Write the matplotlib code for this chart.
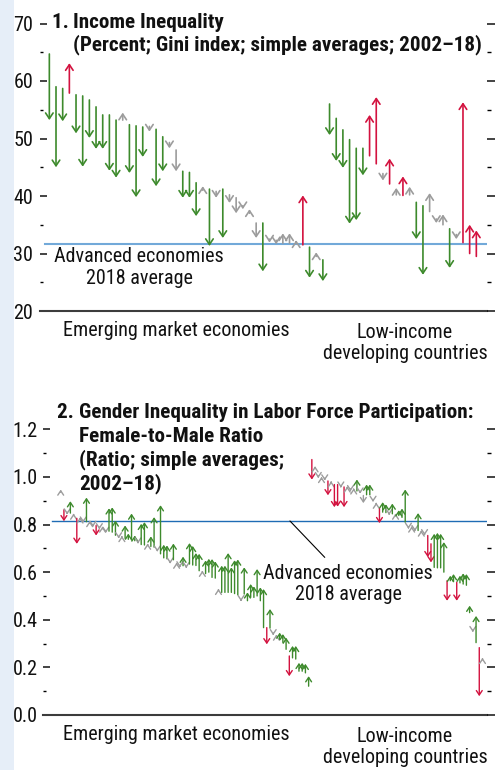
import matplotlib
matplotlib.use("Agg")
import matplotlib.pyplot as plt
from matplotlib.patches import FancyArrowPatch, Rectangle, ArrowStyle
from matplotlib import font_manager as fm
from matplotlib.ticker import MultipleLocator

# ---------------- fonts ----------------
_names = {f.name for f in fm.fontManager.ttflist}
FONT = next((n for n in ["Liberation Sans Narrow", "DejaVu Sans Condensed",
                         "Roboto Condensed", "Liberation Sans"] if n in _names), "DejaVu Sans")
plt.rcParams["font.family"] = [FONT, "DejaVu Sans"]

# ---------------- data: panel 1 (Gini index) ----------------
gini_em_2002 = [64.7, 59.0, 58.7, 57.9, 57.6, 57.4, 56.7, 55.5, 54.1, 54.1,
                53.2, 53.2, 52.4, 52.2, 52.0, 52.1, 51.6, 50.3, 49.3, 48.0,
                44.3, 44.1, 42.3, 41.0, 41.2, 40.8, 41.2, 40.2, 39.7, 38.3,
                37.0, 35.3, 35.3, 32.5, 32.3, 31.8, 31.8, 31.8, 31.5, 31.1,
                29.5, 28.9]
gini_em_2018 = [53.2, 45.0, 53.0, 63.1, 50.9, 45.1, 50.1, 48.2, 48.2, 44.4,
                43.2, 54.5, 44.0, 39.8, 46.8, 51.2, 41.7, 44.3, 48.3, 44.3,
                39.7, 39.7, 36.5, 41.7, 31.3, 39.7, 32.7, 38.8, 37.0, 37.7,
                37.7, 32.7, 26.9, 31.9, 31.6, 33.5, 33.5, 32.3, 40.1, 25.8,
                30.2, 25.2]
gini_em_sig = "gggrgggggggngggnggnngggngngnnnnngnnnnnrgng"
gini_li_2002 = [56.0, 53.5, 51.5, 49.8, 48.3, 48.3, 47.0, 45.6, 43.9, 42.1,
                40.2, 40.1, 40.2, 38.9, 38.3, 37.3, 36.0, 35.0, 34.3, 33.3,
                31.9, 30.0, 29.5]
gini_li_2018 = [50.6, 46.1, 44.9, 35.2, 35.8, 43.6, 54.1, 57.2, 42.7, 46.5,
                41.4, 43.4, 41.6, 32.5, 26.3, 40.5, 35.3, 36.8, 27.5, 32.5,
                56.3, 35.0, 34.0]
gini_li_sig = "ggggggrrnrnrnggnnngnrrr"
gini_adv_2018 = 31.7

# ---------------- data: panel 2 (female-to-male LFP ratio) ----------------
lfp_em_2002 = [0.935, 0.862, 0.852, 0.848, 0.838, 0.826, 0.820, 0.818, 0.812, 0.805,
               0.800, 0.796, 0.790, 0.782, 0.775, 0.772, 0.768, 0.755, 0.750, 0.745,
               0.742, 0.738, 0.735, 0.732, 0.728, 0.716, 0.714, 0.712, 0.708, 0.705,
               0.695, 0.677, 0.660, 0.656, 0.645, 0.652, 0.632, 0.628, 0.627, 0.625,
               0.634, 0.630, 0.628, 0.606, 0.600, 0.594, 0.600, 0.578, 0.575, 0.522,
               0.515, 0.515, 0.515, 0.515, 0.510, 0.505, 0.485, 0.508, 0.480, 0.494,
               0.494, 0.500, 0.480, 0.367, 0.367, 0.365, 0.345, 0.328, 0.318, 0.305,
               0.276, 0.248, 0.240, 0.235, 0.184, 0.184, 0.177, 0.121]
lfp_em_2018 = [0.947, 0.814, 0.842, 0.898, 0.846, 0.719, 0.830, 0.808, 0.913, 0.815,
               0.790, 0.754, 0.780, 0.792, 0.765, 0.868, 0.872, 0.817, 0.742, 0.752,
               0.796, 0.762, 0.846, 0.754, 0.720, 0.803, 0.810, 0.720, 0.750, 0.831,
               0.686, 0.881, 0.715, 0.712, 0.636, 0.720, 0.640, 0.620, 0.665, 0.617,
               0.722, 0.710, 0.680, 0.677, 0.606, 0.649, 0.656, 0.655, 0.645, 0.530,
               0.627, 0.627, 0.680, 0.620, 0.650, 0.653, 0.478, 0.620, 0.515, 0.550,
               0.540, 0.613, 0.536, 0.529, 0.297, 0.445, 0.335, 0.338, 0.346, 0.340,
               0.325, 0.163, 0.290, 0.290, 0.219, 0.219, 0.215, 0.163]
lfp_em_sig = ("nrngnrnngn" "nrnnngggnn" "ggggnggngg" "ngggngnngn"
              "ggggnggggn" "ggggggnggg" "ggggrgnngg" "grgggggg")
lfp_li_2002 = [1.073, 1.035, 1.005, 0.990, 0.995, 0.983, 0.975, 0.968, 0.968, 0.962,
               0.958, 0.952, 0.950, 0.945, 0.941, 0.940, 0.922, 0.925, 0.925, 0.905,
               0.885, 0.867, 0.852, 0.850, 0.848, 0.845, 0.840, 0.838, 0.830, 0.810,
               0.790, 0.785, 0.780, 0.775, 0.768, 0.762, 0.754, 0.719, 0.620, 0.618,
               0.618, 0.600, 0.564, 0.564, 0.560, 0.557, 0.555, 0.550, 0.545, 0.430,
               0.358, 0.304, 0.283, 0.232]
lfp_li_2018 = [0.989, 1.045, 0.995, 1.000, 0.985, 0.923, 0.982, 0.873, 0.875, 0.955,
               0.873, 0.960, 0.940, 0.952, 0.989, 0.930, 0.890, 0.968, 0.968, 0.895,
               0.892, 0.806, 0.894, 0.885, 0.840, 0.888, 0.846, 0.860, 0.867, 0.947,
               0.782, 0.792, 0.772, 0.848, 0.775, 0.755, 0.663, 0.641, 0.761, 0.765,
               0.761, 0.726, 0.480, 0.585, 0.592, 0.480, 0.585, 0.595, 0.592, 0.459,
               0.348, 0.416, 0.079, 0.240]
lfp_li_sig = "rnnnnrnrrn" "rnnngnnggn" "nrggngnggg" "nnngnnrrgg" "ggrggrgggg" "ngrn"
lfp_adv_2018 = 0.815

group_labels = ["Emerging market economies", "Low-income\ndeveloping countries"]
annot_label = "Advanced economies\n2018 average"
title1 = ["1. ", "Income Inequality", "(Percent; Gini index; simple averages; 2002\u201318)"]
title2 = ["2. ", "Gender Inequality in Labor Force Participation:",
          "Female-to-Male Ratio", "(Ratio; simple averages;", "2002\u201318)"]

# ---------------- style ----------------
W, H = 497, 770
COLORS = {"g": "#3d8a2c", "r": "#d3123f", "n": "#9c9c9c"}
TXT = "#111111"
FS = 14.5
TFS = 15.2


def fx(px):
    return px / W


def fy(py):
    return 1 - py / H


fig = plt.figure(figsize=(W / 100, H / 100), dpi=100)
fig.patch.set_facecolor("white")
fig.patches.append(Rectangle((0, 0), fx(14), 1, transform=fig.transFigure,
                             facecolor="#e6eef8", edgecolor="none", zorder=-5))


def style_axes(ax, ylo, yhi, major, minor, pad):
    ax.set_ylim(ylo, yhi)
    for s in ["left", "right", "top"]:
        ax.spines[s].set_visible(False)
    ax.spines["bottom"].set_color("#3c3c3c")
    ax.spines["bottom"].set_linewidth(1.5)
    ax.set_xticks([])
    ax.yaxis.set_major_locator(MultipleLocator(major))
    ax.yaxis.set_minor_locator(MultipleLocator(minor))
    ax.tick_params(axis="y", which="major", direction="in", length=5, width=1.1,
                   labelsize=FS, pad=pad, colors=TXT)
    ax.tick_params(axis="y", which="minor", direction="in", length=2.5, width=1.0)
    ax.patch.set_alpha(0)
    tw = ax.twinx()
    tw.set_ylim(ylo, yhi)
    for s in tw.spines.values():
        s.set_visible(False)
    tw.yaxis.set_major_locator(MultipleLocator(major))
    tw.yaxis.set_minor_locator(MultipleLocator(minor))
    tw.tick_params(axis="y", which="major", direction="out", length=6, width=1.1,
                   labelright=False, colors=TXT)
    tw.tick_params(axis="y", which="minor", direction="out", length=3, width=1.0)
    tw.set_xticks([])


def draw_arrows(ax, starts, ends, sig, x0, lw, scale):
    style = ArrowStyle("->", head_length=0.45, head_width=0.3)
    for k, (s, e, c) in enumerate(zip(starts, ends, sig)):
        ax.add_patch(FancyArrowPatch((x0 + k, s), (x0 + k, e), arrowstyle=style,
                                     mutation_scale=scale, color=COLORS[c], lw=lw,
                                     shrinkA=0, shrinkB=0, zorder=3))


# ---------------- panel 1 ----------------
ax1 = fig.add_axes([fx(40), fy(311), fx(487) - fx(40), fy(23.5) - fy(311)])
style_axes(ax1, 20, 70, 10, 5, 4.8)
n1 = len(gini_em_2002) + len(gini_li_2002)
ax1.set_xlim(-1.4, n1 + 0.6)
ax1.axhline(gini_adv_2018, xmin=0.012, xmax=1, color="#72a9d9", lw=1.5, zorder=2)
draw_arrows(ax1, gini_em_2002, gini_em_2018, gini_em_sig, 0, 1.2, 9)
draw_arrows(ax1, gini_li_2002, gini_li_2018, gini_li_sig, len(gini_em_2002), 1.2, 9)
ax1.text(13.45, 27.55, annot_label, ha="center", va="center", fontsize=FS,
         color=TXT, linespacing=1.15, zorder=4)

fig.text(fx(52), fy(28), title1[0], fontsize=TFS, fontweight="bold", color=TXT, va="baseline")
fig.text(fx(73), fy(28), title1[1], fontsize=TFS, fontweight="bold", color=TXT, va="baseline")
fig.text(fx(73), fy(50), title1[2], fontsize=TFS, fontweight="bold", color=TXT, va="baseline")
fig.text(fx(176), fy(331), group_labels[0], fontsize=FS, color=TXT, ha="center", va="center")
fig.text(fx(405), fy(343), group_labels[1], fontsize=FS, color=TXT, ha="center", va="center",
         linespacing=1.15)

# ---------------- panel 2 ----------------
ax2 = fig.add_axes([fx(43), fy(715), fx(487) - fx(43), fy(429.3) - fy(715)])
style_axes(ax2, 0, 1.2, 0.2, 0.1, 3.6)
ax2.yaxis.set_major_formatter(matplotlib.ticker.FormatStrFormatter("%.1f"))
n2 = len(lfp_em_2002) + len(lfp_li_2002)
ax2.set_xlim(-5.5, n2 + 0.4)
ax2.axhline(lfp_adv_2018, xmin=0.02, xmax=1, color="#1f6cb4", lw=1.0, zorder=2)
draw_arrows(ax2, lfp_em_2002, lfp_em_2018, lfp_em_sig, 0, 1.0, 7)
draw_arrows(ax2, lfp_li_2002, lfp_li_2018, lfp_li_sig, len(lfp_em_2002), 1.0, 7)
ax2.annotate(annot_label, xy=(71.2, lfp_adv_2018), xytext=(89.3, 0.549),
             ha="center", va="center", fontsize=FS, color=TXT, linespacing=1.15,
             zorder=4,
             arrowprops=dict(arrowstyle="-", color="black", lw=0.8, relpos=(0.4, 1.0),
                             shrinkA=4, shrinkB=0))

fig.text(fx(57), fy(418), title2[0], fontsize=TFS, fontweight="bold", color=TXT, va="baseline")
fig.text(fx(79), fy(418), title2[1], fontsize=TFS, fontweight="bold", color=TXT, va="baseline")
fig.text(fx(79), fy(442), title2[2], fontsize=TFS, fontweight="bold", color=TXT, va="baseline")
fig.text(fx(79), fy(465), title2[3], fontsize=TFS, fontweight="bold", color=TXT, va="baseline")
fig.text(fx(79), fy(489), title2[4], fontsize=TFS, fontweight="bold", color=TXT, va="baseline")
fig.text(fx(176), fy(735), group_labels[0], fontsize=FS, color=TXT, ha="center", va="center")
fig.text(fx(405), fy(747), group_labels[1], fontsize=FS, color=TXT, ha="center", va="center",
         linespacing=1.15)

fig.savefig("out.png", dpi=100, facecolor="white")
